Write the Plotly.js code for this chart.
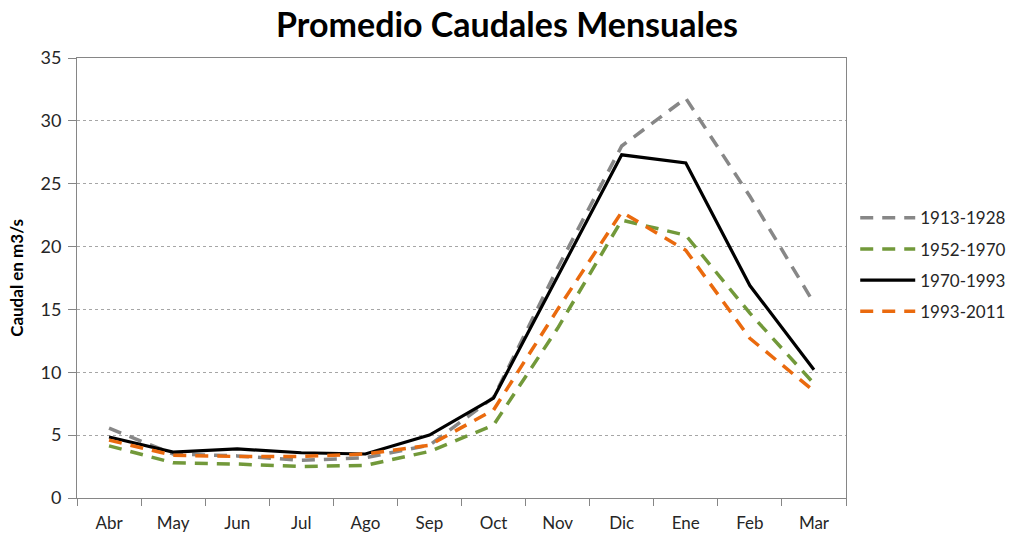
<!DOCTYPE html>
<html>
<head>
<meta charset="utf-8">
<script src="https://cdn.plot.ly/plotly-3.0.1.min.js"></script>
<style>html,body{margin:0;padding:0;background:#fff}#chart{width:1014px;height:533px}</style>
</head>
<body>
<div id="chart"></div>
<script>
const months = ["Abr","May","Jun","Jul","Ago","Sep","Oct","Nov","Dic","Ene","Feb","Mar"];
const s1913_1928 = [5.55, 3.5, 3.35, 3.0, 3.2, 4.2, 8.0, 18.3, 28.0, 31.8, 24.0, 15.5];
const s1952_1970 = [4.15, 2.8, 2.7, 2.5, 2.6, 3.7, 5.8, 13.5, 22.1, 20.9, 14.7, 9.1];
const s1970_1993 = [4.85, 3.65, 3.9, 3.6, 3.5, 5.0, 7.95, 17.6, 27.3, 26.65, 16.9, 10.2];
const s1993_2011 = [4.6, 3.4, 3.3, 3.3, 3.5, 4.2, 7.0, 15.0, 22.75, 19.7, 12.7, 8.5];
const seriesNames = ["1913-1928","1952-1970","1970-1993","1993-2011"];
const yTicks = [0,5,10,15,20,25,30,35];

const dashPat = "13px,9px";
const traces = [
  {x: months, y: s1913_1928, name: seriesNames[0], legendgroup: "a", mode: "lines",
   line: {color: "#878787", width: 3.5, dash: dashPat}},
  {x: months, y: s1952_1970, name: seriesNames[1], legendgroup: "b", mode: "lines",
   line: {color: "#72993a", width: 3.5, dash: dashPat}},
  {x: months, y: s1970_1993, name: seriesNames[2], legendgroup: "c", mode: "lines",
   line: {color: "#000000", width: 3.2}},
  {x: months, y: s1993_2011, name: seriesNames[3], legendgroup: "d", mode: "lines",
   line: {color: "#ea6a0e", width: 3.5, dash: dashPat}}
];

const font = "Lato, 'Open Sans', sans-serif";
const layout = {
  width: 1014, height: 533,
  margin: {l: 77, r: 168, t: 58, b: 35, autoexpand: false},
  paper_bgcolor: "#fff", plot_bgcolor: "#fff",
  font: {family: font, size: 17, color: "#262626"},
  title: {text: "<b>Promedio Caudales Mensuales</b>", x: 0.5, xref: "container",
          y: 0.953, yanchor: "middle",
          font: {family: font, size: 34, color: "#000"}},
  showlegend: true,
  legend: {x: 1.012, xanchor: "left", y: 0.53, yanchor: "middle",
           font: {family: font, size: 17, color: "#262626"},
           tracegroupgap: 6, itemwidth: 55, bgcolor: "rgba(0,0,0,0)"},
  xaxis: {type: "category", categoryorder: "array", categoryarray: months,
          range: [-0.5, 11.5], showgrid: false, zeroline: false,
          showline: true, linecolor: "#868686", linewidth: 1, mirror: true,
          ticks: "outside", ticklen: 7, tickcolor: "#868686", tickson: "boundaries",
          ticklabelstandoff: 10,
          tickfont: {family: font, size: 17, color: "#262626"}, fixedrange: true},
  yaxis: {range: [0, 35], tickvals: yTicks, showgrid: true,
          gridcolor: "#a6a6a6", griddash: "3px,3px", gridwidth: 1,
          zeroline: false, showline: true, linecolor: "#868686", linewidth: 1, mirror: true,
          ticks: "outside", ticklen: 8, tickcolor: "#868686",
          ticklabelstandoff: 3,
          tickfont: {family: font, size: 18, color: "#262626"},
          title: {text: "<b>Caudal en m3/s</b>", standoff: 12,
                  font: {family: font, size: 17, color: "#000"}},
          fixedrange: true}
};

Plotly.newPlot("chart", traces, layout, {displayModeBar: false, staticPlot: true});
</script>
</body>
</html>
